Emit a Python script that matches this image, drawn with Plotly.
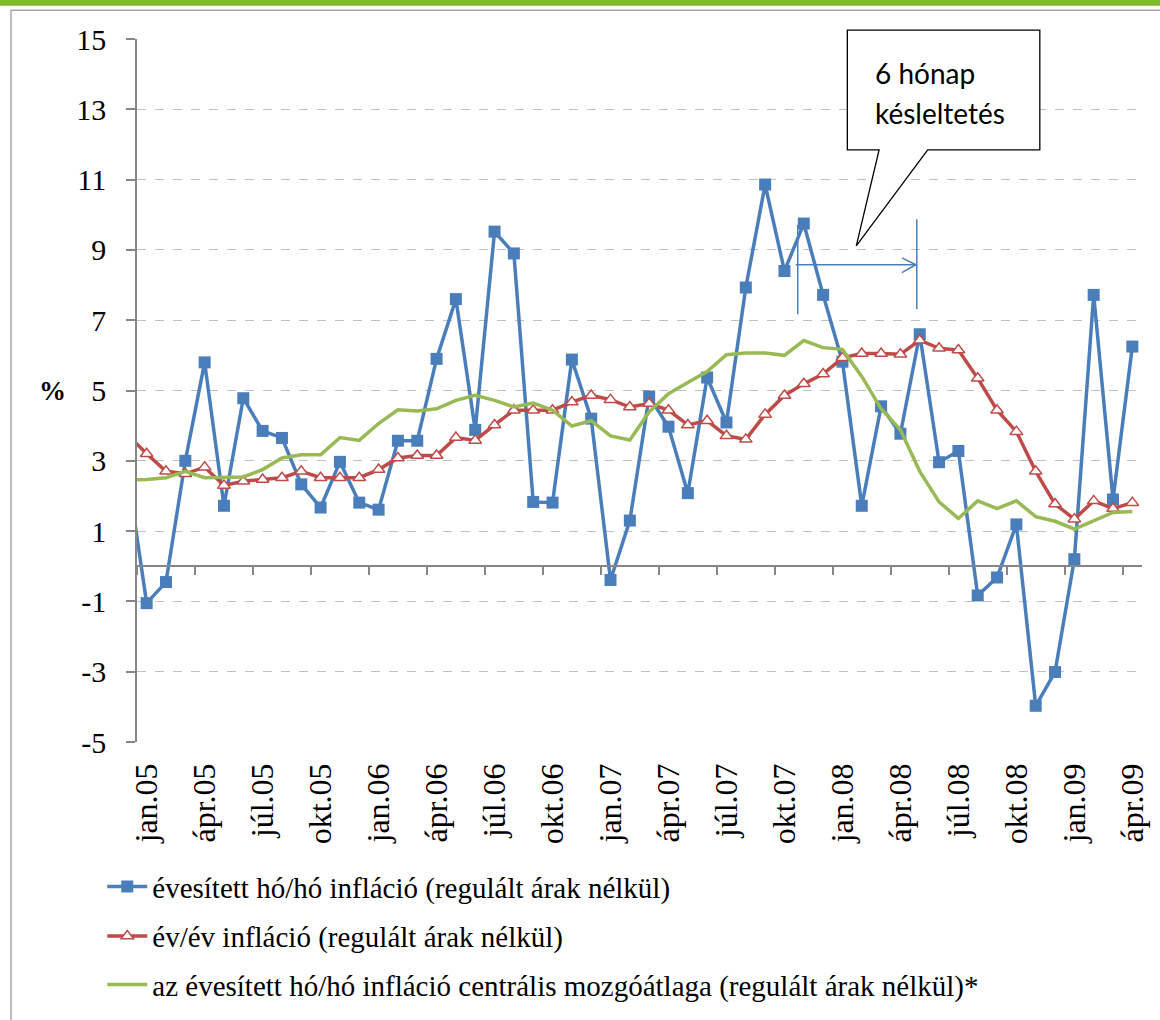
import plotly.graph_objects as go

# ---------------- data ----------------
# index 0 = dec.04 (only partly visible at the left edge), 1 = jan.05 ... 52 = apr.09
months_idx = list(range(0, 53))

mom_annualised = [2.7,
    -1.05, -0.45, 3.0, 5.8, 1.72, 4.78, 3.85, 3.65, 2.33, 1.67, 2.97, 1.81,
    1.61, 3.57, 3.57, 5.9, 7.6, 3.88, 9.52, 8.9, 1.83, 1.81, 5.88, 4.2,
    -0.39, 1.3, 4.83, 3.97, 2.08, 5.37, 4.09, 7.93, 10.86, 8.4, 9.75, 7.72,
    5.82, 1.72, 4.55, 3.77, 6.6, 2.96, 3.28, -0.83, -0.32, 1.19, -3.97, -3.01,
    0.2, 7.72, 1.9, 6.25]

yoy = [3.75,
    3.2, 2.7, 2.63, 2.82, 2.3, 2.42, 2.47, 2.52, 2.7, 2.52, 2.52, 2.52,
    2.75, 3.08, 3.15, 3.15, 3.66, 3.58, 4.02, 4.44, 4.44, 4.44, 4.67, 4.86,
    4.74, 4.53, 4.63, 4.44, 4.02, 4.14, 3.71, 3.61, 4.32, 4.86, 5.19, 5.47,
    5.93, 6.05, 6.05, 6.03, 6.43, 6.2, 6.15, 5.35, 4.44, 3.83, 2.7, 1.77,
    1.34, 1.86, 1.64, 1.81]

moving_avg = [2.45,
    2.47, 2.52, 2.7, 2.52, 2.54, 2.54, 2.75, 3.08, 3.17, 3.17, 3.66, 3.58,
    4.06, 4.45, 4.42, 4.48, 4.72, 4.86, 4.72, 4.53, 4.64, 4.44, 3.99, 4.14,
    3.71, 3.59, 4.39, 4.91, 5.23, 5.54, 6.02, 6.07, 6.07, 6.0, 6.42, 6.22,
    6.17, 5.4, 4.48, 3.88, 2.7, 1.83, 1.36, 1.86, 1.64, 1.86, 1.41, 1.28,
    1.06, 1.3, 1.53, 1.56]

tick_labels = ["jan.05", "ápr.05", "júl.05", "okt.05",
               "jan.06", "ápr.06", "júl.06", "okt.06",
               "jan.07", "ápr.07", "júl.07", "okt.07",
               "jan.08", "ápr.08", "júl.08", "okt.08",
               "jan.09", "ápr.09"]
tick_positions = [1 + 3 * k for k in range(len(tick_labels))]
axis_tick_positions = [0.5 + 3 * k for k in range(18)]

y_tick_values = [-5, -3, -1, 1, 3, 5, 7, 9, 11, 13, 15]
y_tick_text = ["-5", "-3", "-1", "1", "3", "5", "7", "9", "11", "13", "15"]

names = ["évesített hó/hó infláció (regulált árak nélkül)",
         "év/év infláció (regulált árak nélkül)",
         "az évesített hó/hó infláció centrális mozgóátlaga (regulált árak nélkül)*"]

# ---------------- layout helpers ----------------
W, H = 1160, 1020
# plot area in page pixels
L, R, T, B = 137, 1150, 39, 749


def px(x):
    return (x - L) / (R - L)


def py(y):
    return (B - y) / (B - T)


SERIF = "Liberation Serif"
BLUE = "#4A7EBB"
RED = "#BE4B48"
GREEN = "#98B954"
AXIS = "#868686"

fig = go.Figure()
fig.add_trace(go.Scatter(
    x=months_idx, y=mom_annualised, name=names[0], mode="lines+markers",
    line=dict(color=BLUE, width=3.5),
    marker=dict(symbol="square", size=12, color=BLUE),
    legend="legend"))
fig.add_trace(go.Scatter(
    x=months_idx, y=yoy, name=names[1], mode="lines+markers",
    line=dict(color=RED, width=3.5),
    marker=dict(symbol="triangle-up", size=11, color="white",
                line=dict(color=RED, width=1.5)),
    legend="legend2"))
fig.add_trace(go.Scatter(
    x=months_idx, y=moving_avg, name=names[2], mode="lines",
    line=dict(color=GREEN, width=3.5),
    legend="legend3"))
# dummy trace for the overlaid axis at y = 0
fig.add_trace(go.Scatter(x=[None], y=[None], xaxis="x2", yaxis="y",
                         showlegend=False, hoverinfo="skip"))

shapes = []
# green top bar and grey frame
shapes.append(dict(type="rect", xref="paper", yref="paper",
                   x0=px(-20), x1=px(1180), y0=py(-20), y1=py(5.5),
                   fillcolor="#7DB928", line=dict(width=0), layer="below"))
shapes.append(dict(type="rect", xref="paper", yref="paper",
                   x0=px(10), x1=px(1190), y0=py(10), y1=py(1050),
                   fillcolor="rgba(0,0,0,0)", line=dict(color="#A6A6A6", width=1.5),
                   layer="below"))
# callout box
pts = [(853, 30), (1047, 30), (1047, 151), (934, 151), (862, 248), (885, 151), (853, 151)]
path = "M " + " L ".join(f"{px(a):.5f},{py(b):.5f}" for a, b in pts) + " Z"
shapes.append(dict(type="path", xref="paper", yref="paper", path=path,
                   fillcolor="white", line=dict(color="black", width=1.3), layer="above"))
# 6-month arrow and markers
for (x0, y0, x1, y1) in [(801, 267, 922, 267), (803, 227, 803, 317), (923, 221, 923, 312),
                         (908, 260, 922, 267), (908, 275, 922, 267)]:
    shapes.append(dict(type="line", xref="paper", yref="paper",
                       x0=px(x0), y0=py(y0), x1=px(x1), y1=py(y1),
                       line=dict(color=BLUE, width=1.5), layer="above"))

annotations = [
    dict(xref="paper", yref="paper", x=px(52), y=py(394), text="<b>%</b>",
         showarrow=False, font=dict(family=SERIF, size=27, color="black"),
         xanchor="center", yanchor="middle"),
    dict(xref="paper", yref="paper", x=px(879), y=py(73), text="6 hónap",
         showarrow=False, font=dict(family="Lato", size=28, color="black"),
         xanchor="left", yanchor="middle"),
    dict(xref="paper", yref="paper", x=px(879), y=py(114), text="késleltetés",
         showarrow=False, font=dict(family="Lato", size=28, color="black"),
         xanchor="left", yanchor="middle"),
]


def legend_at(row_y):
    return dict(x=px(102), y=py(row_y), xanchor="left", yanchor="middle",
                font=dict(family=SERIF, size=29, color="black"),
                bgcolor="rgba(0,0,0,0)", itemwidth=40)


fig.update_layout(
    width=W, height=H,
    margin=dict(l=L, r=W - R, t=T, b=H - B, pad=0),
    paper_bgcolor="white", plot_bgcolor="white",
    showlegend=True,
    legend=legend_at(895),
    legend2=legend_at(945),
    legend3=legend_at(994),
    xaxis=dict(range=[0.5, 52.5], tickmode="array", tickvals=tick_positions,
               ticktext=tick_labels, tickangle=-90, showgrid=False, showline=False,
               zeroline=False, ticks="", ticklabelstandoff=14,
               tickfont=dict(family=SERIF, size=32, color="black")),
    xaxis2=dict(overlaying="x", anchor="free", position=0.25, side="bottom",
                range=[0.5, 52.5], tickmode="array", tickvals=axis_tick_positions,
                showticklabels=False, ticks="outside", ticklen=8, tickwidth=1.5,
                tickcolor=AXIS, showline=True, linecolor=AXIS, linewidth=1.5,
                showgrid=False, zeroline=False),
    yaxis=dict(range=[-5, 15], tickmode="array", tickvals=y_tick_values,
               ticktext=y_tick_text,
               showgrid=True, gridcolor="#C0C0C0", griddash="dash", gridwidth=1,
               showline=True, linecolor=AXIS, linewidth=1.5,
               ticks="outside", ticklen=9, tickwidth=1.5, tickcolor=AXIS,
               zeroline=False, ticklabelstandoff=14,
               tickfont=dict(family=SERIF, size=30, color="black")),
    shapes=shapes,
    annotations=annotations,
)

# remove the default 8px page margin so the figure sits at the window's corner
fig.write_html("out.html", config={"displayModeBar": False},
               post_script="document.body.style.margin='0px';")
